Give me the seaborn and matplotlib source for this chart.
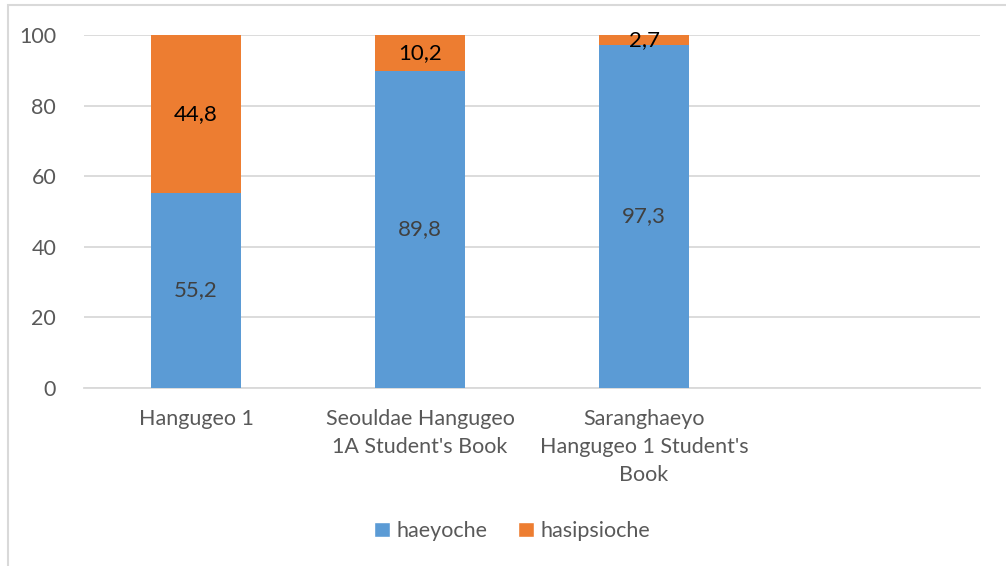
import numpy as np
import pandas as pd
import matplotlib
matplotlib.use('Agg')
import matplotlib.pyplot as plt
from matplotlib.patches import Rectangle
import seaborn as sns

categories = ['Hangugeo 1', 'Seouldae Hangugeo\n1A Student\'s Book', 'Saranghaeyo\nHangugeo 1 Student\'s\nBook']
haeyoche = [55.2, 89.8, 97.3]
hasipsioche = [44.8, 10.2, 2.7]
series_names = ['haeyoche', 'hasipsioche']
y_ticks = [0, 20, 40, 60, 80, 100]

BLUE = '#5B9BD5'
ORANGE = '#ED7D31'
GRAY_TXT = '#595959'
GRID = '#D9D9D9'
FS = 15.5

sns.set_style('white')
plt.rcParams['font.family'] = ['Lato', 'DejaVu Sans']

df = pd.DataFrame({'category': categories, 'haeyoche': haeyoche, 'hasipsioche': hasipsioche})
df['total'] = df['haeyoche'] + df['hasipsioche']

fig = plt.figure(figsize=(10.06, 5.66), dpi=100)
ax = fig.add_axes([84 / 1006, 1 - 388 / 566, (980 - 84) / 1006, (388 - 35) / 566])

# stacked: draw the full height in orange, then the blue part over it
sns.barplot(data=df, x='category', y='total', color=ORANGE, saturation=1, width=0.4,
            linewidth=0, ax=ax, zorder=2)
sns.barplot(data=df, x='category', y='haeyoche', color=BLUE, saturation=1, width=0.4,
            linewidth=0, ax=ax, zorder=3)

ax.set_xlim(-0.5, 3.5)
ax.set_ylim(0, 100)
ax.set_yticks(y_ticks)
ax.set_xlabel('')
ax.set_ylabel('')
for s in ['top', 'right', 'left']:
    ax.spines[s].set_visible(False)
ax.spines['bottom'].set_color(GRID)
ax.spines['bottom'].set_linewidth(1.3)
ax.spines['bottom'].set_zorder(1)
ax.yaxis.grid(True, color=GRID, linewidth=1.3)
ax.set_axisbelow(True)
ax.tick_params(axis='both', length=0, labelsize=FS, colors=GRAY_TXT)
ax.tick_params(axis='y', pad=20)
ax.tick_params(axis='x', pad=15)
for lbl in ax.get_xticklabels():
    lbl.set_linespacing(1.5)

def fmt(v):
    return f'{v:.1f}'.replace('.', ',')

for i, (b, o) in enumerate(zip(haeyoche, hasipsioche)):
    ax.text(i, b / 2, fmt(b), ha='center', va='center', fontsize=FS + 0.5, color='#404040', zorder=5)
    ax.text(i, b + o / 2, fmt(o), ha='center', va='center', fontsize=FS + 0.5, color='black', zorder=5)

handles = [Rectangle((0, 0), 1, 1, facecolor=BLUE), Rectangle((0, 0), 1, 1, facecolor=ORANGE)]
fig.legend(handles, series_names, loc='center', bbox_to_anchor=(512 / 1006, 1 - 531 / 566),
           ncol=2, frameon=False, fontsize=FS, handlelength=0.75, handleheight=0.75,
           handletextpad=0.3, columnspacing=1.4, labelcolor=GRAY_TXT)

# chart area border
fig.patches.append(Rectangle((8 / 1006, -0.1), 1.2, 1.1 - 5 / 566, transform=fig.transFigure,
                             fill=False, edgecolor=GRID, linewidth=1.5))

fig.savefig('out.png', dpi=100)
